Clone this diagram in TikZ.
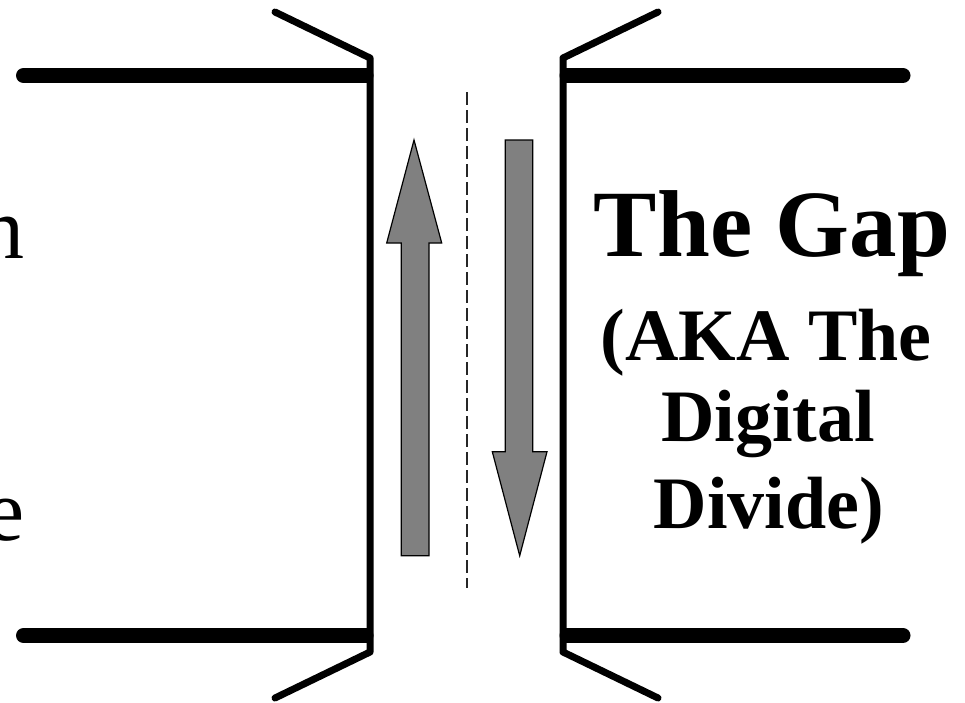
\documentclass[tikz,border=0pt]{standalone}
\usepackage{fontspec}
\setmainfont{Liberation Serif}
\definecolor{arrowgray}{HTML}{808080}
\begin{document}
\begin{tikzpicture}[x=1pt,y=-1pt,
  wall/.style={line width=7pt,line join=round,line cap=round},
  slab/.style={line width=15pt},
  bigarrow/.style={fill=arrowgray,draw=black,line width=1.2pt,line join=miter},
  gaptext/.style={font=\bfseries,align=center}]
\useasboundingbox (0,0) rectangle (965,702);
% left structure
\draw[slab,line cap=round] (23.5,75.5) -- (366,75.5);
\draw[slab,line cap=round] (23.5,635.5) -- (366,635.5);
\draw[slab] (100,75.5) -- (370,75.5);
\draw[slab] (100,635.5) -- (370,635.5);
\draw[wall] (275,12) -- (370,58) -- (370,652) -- (275,698);
% right structure
\draw[slab,line cap=round] (567,75.5) -- (903,75.5);
\draw[slab,line cap=round] (567,635.5) -- (903,635.5);
\draw[slab] (563,75.5) -- (850,75.5);
\draw[slab] (563,635.5) -- (850,635.5);
\draw[wall] (658,12) -- (563,58) -- (563,652) -- (658,698);
% dashed divider
\draw[line width=1.3pt,black!85,dash pattern=on 13pt off 5pt] (467,92) -- (467,588);
% up arrow
\draw[bigarrow] (414,140) -- (441.7,243) -- (429,243) -- (429,555.7) -- (401.3,555.7) -- (401.3,243) -- (386.7,243) -- cycle;
% down arrow
\draw[bigarrow] (519.7,555.7) -- (547,451.7) -- (532.7,451.7) -- (532.7,140) -- (505.3,140) -- (505.3,451.7) -- (492.3,451.7) -- cycle;
% left clipped text
\node[anchor=base east,inner sep=0pt,font=\fontsize{88}{88}\selectfont] (lefttop) at (25,258) {n};
\node[anchor=base east,inner sep=0pt,font=\fontsize{88}{88}\selectfont] (leftbot) at (25,540) {e};
% right text
\node[gaptext,anchor=base,inner sep=0pt,font=\bfseries\fontsize{95}{95}\selectfont] (gap) at (772,256) {The Gap};
\node[gaptext,anchor=base,inner sep=0pt,font=\bfseries\fontsize{74}{74}\selectfont] (aka) at (766,360) {(AKA The};
\node[gaptext,anchor=base,inner sep=0pt,font=\bfseries\fontsize{74}{74}\selectfont] (digital) at (768,441) {Digital};
\node[gaptext,anchor=base,inner sep=0pt,font=\bfseries\fontsize{74}{74}\selectfont] (divide) at (769,528) {Divide)};
\end{tikzpicture}
\end{document}
